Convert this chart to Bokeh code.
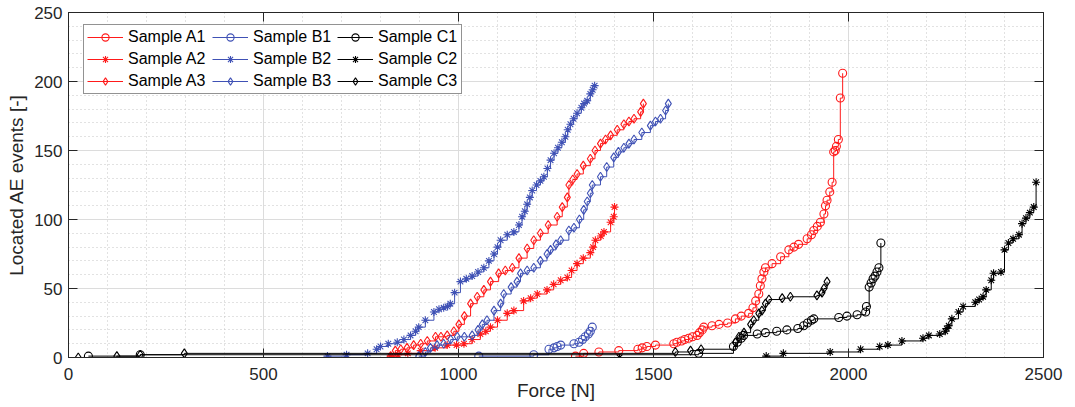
import math
from bokeh.plotting import figure
from bokeh.models import (Range1d, LinearAxis, Legend, LegendItem,
                          SingleIntervalTicker, ColumnDataSource, CustomJSTickFormatter)
from bokeh.embed import file_html
from bokeh.resources import INLINE

# ---------------- data (force [N], cumulative located AE events) -------------
a1_force = [1300, 1321, 1360, 1411, 1460, 1471, 1483, 1505, 1552, 1560, 1572, 1580,
            1590, 1600, 1612, 1618, 1625, 1629, 1650, 1668, 1690, 1710, 1725, 1744,
            1755, 1762, 1770, 1774, 1778, 1783, 1787, 1804, 1826, 1847, 1860, 1872,
            1894, 1905, 1911, 1920, 1928, 1937, 1941, 1945, 1952, 1958, 1962, 1966,
            1969, 1974, 1979, 1985]
a1_events = [1, 3, 4, 5, 6, 7, 8, 9, 10, 11, 12, 13,
             14, 15, 16, 18, 20, 22, 23, 24, 25, 28, 30, 32,
             36, 41, 46, 52, 57, 62, 65, 68, 73, 78, 80, 82,
             86, 89, 92, 95, 98, 104, 110, 114, 120, 127, 149, 150,
             153, 158, 188, 206]

a2_force = [826, 845, 870, 903, 940, 971, 995, 1014, 1035, 1056, 1070, 1082, 1100,
            1125, 1142, 1167, 1185, 1202, 1227, 1244, 1262, 1279, 1290, 1304, 1320,
            1338, 1345, 1351, 1365, 1373, 1390, 1398, 1400]
a2_events = [1, 2, 3, 5, 7, 9, 9, 10, 13, 17, 19, 22, 27,
             32, 34, 41, 43, 46, 49, 53, 56, 58, 63, 68, 72,
             76, 80, 85, 88, 91, 98, 102, 109]

a3_force = [826, 838, 852, 868, 885, 903, 920, 941, 955, 971, 988, 1001, 1015, 1031,
            1048, 1065, 1082, 1103, 1120, 1138, 1155, 1176, 1193, 1210, 1230, 1253,
            1266, 1279, 1283, 1293, 1304, 1320, 1338, 1350, 1364, 1377, 1390, 1407,
            1424, 1437, 1450, 1467, 1474]
a3_events = [1, 5, 6, 7, 9, 10, 12, 15, 15, 16, 19, 24, 30, 39,
             44, 49, 55, 61, 63, 65, 72, 79, 85, 90, 96, 102,
             109, 116, 125, 129, 133, 139, 144, 150, 155, 158, 161, 165,
             169, 171, 173, 178, 184]

b1_force = [1052, 1193, 1232, 1245, 1253, 1262, 1296, 1309, 1318, 1325, 1333, 1338, 1343]
b1_events = [1, 2, 6, 7, 8, 9, 10, 11, 13, 15, 17, 19, 22]

b2_force = [664, 713, 767, 790, 800, 820, 843, 860, 877, 890, 898, 915, 937, 950, 962,
            972, 979, 990, 1005, 1020, 1035, 1050, 1065, 1078, 1091, 1100, 1108, 1125,
            1142, 1155, 1163, 1170, 1176, 1183, 1189, 1200, 1210, 1219, 1228, 1236,
            1245, 1255, 1265, 1274, 1280, 1287, 1295, 1304, 1315, 1322, 1330, 1338,
            1344, 1349]
b2_events = [1, 2, 3, 6, 8, 10, 11, 13, 16, 19, 22, 27, 33, 35, 36,
             37, 39, 47, 55, 57, 59, 62, 65, 70, 75, 80, 85, 89,
             91, 96, 102, 106, 111, 116, 121, 125, 128, 131, 137, 143,
             148, 152, 156, 160, 165, 169, 173, 177, 181, 184, 186, 191,
             194, 197]

b3_force = [898, 915, 928, 945, 962, 980, 997, 1015, 1035, 1050, 1061, 1073, 1091,
            1108, 1116, 1135, 1150, 1159, 1176, 1193, 1210, 1227, 1236, 1250, 1262,
            1283, 1296, 1310, 1321, 1330, 1338, 1343, 1364, 1380, 1398, 1410, 1424,
            1437, 1450, 1470, 1492, 1505, 1518, 1531, 1538]
b3_events = [1, 4, 7, 9, 10, 13, 15, 15, 16, 20, 24, 27, 34,
             39, 46, 51, 55, 61, 63, 65, 70, 75, 78, 82, 85,
             92, 94, 100, 107, 113, 119, 125, 131, 138, 145, 149, 152,
             155, 158, 163, 168, 171, 173, 179, 184]

c1_force = [51, 184, 1616, 1705, 1715, 1725, 1731, 1766, 1787, 1816, 1842, 1870, 1885,
            1895, 1905, 1911, 1975, 1996, 2022, 2044, 2046, 2053, 2058, 2063, 2068,
            2073, 2078, 2083]
c1_events = [1, 2, 3, 8, 11, 14, 16, 17, 18, 19, 20, 21, 23,
             25, 27, 28, 29, 30, 31, 33, 37, 51, 54, 57, 59,
             62, 65, 83]

c2_force = [1413, 1789, 1833, 1953, 2031, 2080, 2101, 2137, 2191, 2206, 2234, 2248,
            2252, 2257, 2265, 2282, 2294, 2325, 2335, 2345, 2353, 2366, 2372, 2391,
            2400, 2410, 2422, 2437, 2445, 2455, 2465, 2475, 2481]
c2_events = [0, 1, 3, 4, 6, 8, 9, 12, 14, 16, 17, 19,
             21, 23, 28, 33, 37, 40, 42, 44, 49, 56, 61, 62,
             78, 83, 86, 89, 97, 101, 105, 109, 127]

c3_force = [25, 124, 184, 297, 1556, 1595, 1622, 1710, 1719, 1732, 1749, 1757, 1770,
            1778, 1787, 1796, 1830, 1851, 1919, 1932, 1937, 1945]
c3_events = [0, 1, 2, 3, 4, 5, 6, 11, 15, 18, 24, 27, 32,
             34, 39, 42, 43, 44, 45, 47, 50, 55]

labels = ["Sample A1", "Sample A2", "Sample A3",
          "Sample B1", "Sample B2", "Sample B3",
          "Sample C1", "Sample C2", "Sample C3"]

x_ticks_step = 500
y_ticks_step = 50

# ---------------- styling --------------------------------------------------
RED = "#FF1A1A"
BLUE = "#3F51B5"
BLACK = "#000000"
AXC = "#262626"
FONT = "Liberation Sans"

series = [
    (a1_force, a1_events, RED, "circle"),
    (a2_force, a2_events, RED, "asterisk"),
    (a3_force, a3_events, RED, "diamond"),
    (b1_force, b1_events, BLUE, "circle"),
    (b2_force, b2_events, BLUE, "asterisk"),
    (b3_force, b3_events, BLUE, "diamond"),
    (c1_force, c1_events, BLACK, "circle"),
    (c2_force, c2_events, BLACK, "asterisk"),
    (c3_force, c3_events, BLACK, "diamond"),
]

p = figure(width=1075, height=407, output_backend="svg", toolbar_location=None,
           x_range=Range1d(0, 2500), y_range=Range1d(0, 250),
           min_border_left=68, min_border_right=32, min_border_top=12,
           min_border_bottom=50)
p.background_fill_color = "white"
p.border_fill_color = "white"
p.outline_line_color = AXC
p.outline_line_width = 1

for ax in (p.xaxis[0], p.yaxis[0]):
    ax.axis_line_color = AXC
    ax.major_tick_line_color = AXC
    ax.major_tick_in = 9
    ax.major_tick_out = 0
    ax.minor_tick_in = 0
    ax.minor_tick_out = 0
    ax.major_label_text_font = FONT
    ax.major_label_text_font_size = "17px"
    ax.major_label_text_color = AXC
    ax.axis_label_text_font = FONT
    ax.axis_label_text_font_size = "19px"
    ax.axis_label_text_font_style = "normal"
    ax.axis_label_text_color = AXC

p.xaxis[0].ticker = SingleIntervalTicker(interval=x_ticks_step, num_minor_ticks=5)
p.yaxis[0].ticker = SingleIntervalTicker(interval=y_ticks_step, num_minor_ticks=5)
p.xaxis[0].major_label_standoff = 10
p.xaxis[0].axis_label = "Force [N]"
p.xaxis[0].axis_label_standoff = -3
p.yaxis[0].major_label_standoff = 6
p.yaxis[0].axis_label = "Located AE events [-]"
p.yaxis[0].axis_label_standoff = 4

for loc, dim_ticker in (("above", SingleIntervalTicker(interval=x_ticks_step, num_minor_ticks=5)),
                        ("right", SingleIntervalTicker(interval=y_ticks_step, num_minor_ticks=5))):
    ax = LinearAxis(ticker=dim_ticker)
    ax.axis_line_color = AXC
    ax.major_tick_line_color = AXC
    ax.major_tick_in = 9
    ax.major_tick_out = 0
    ax.minor_tick_in = 0
    ax.minor_tick_out = 0
    ax.formatter = CustomJSTickFormatter(code="return ''")
    ax.major_label_standoff = 0
    p.add_layout(ax, loc)

for g in (p.xgrid[0], p.ygrid[0]):
    g.grid_line_color = "#DCDCDC"
    g.grid_line_width = 1
    g.minor_grid_line_color = "#C4C4C4"
    g.minor_grid_line_dash = "1 3"
    g.minor_grid_line_width = 1
p.xgrid[0].ticker = SingleIntervalTicker(interval=x_ticks_step, num_minor_ticks=5)
p.ygrid[0].ticker = SingleIntervalTicker(interval=y_ticks_step, num_minor_ticks=5)

items = []
for (fx, ev, col, mk), lab in zip(series, labels):
    src = ColumnDataSource(dict(x=fx, y=ev))
    r_line = p.step("x", "y", source=src, mode="after", line_color=col, line_width=1)
    size = 9 if mk == "diamond" else 8
    r_mk = p.scatter("x", "y", source=src, marker=mk, size=size, line_color=col,
                     fill_color=None, line_width=1.1)
    items.append(LegendItem(label=lab, renderers=[r_line, r_mk]))

legend = Legend(items=items, location=(15, 263), ncols=3)
legend.label_text_font = FONT
legend.label_text_font_size = "16px"
legend.label_text_color = "black"
legend.glyph_width = 36
legend.glyph_height = 18
legend.label_height = 18
legend.label_width = 80
legend.label_standoff = 5
legend.spacing = 4
legend.padding = 3
legend.margin = 0
legend.border_line_color = AXC
legend.border_line_width = 1
legend.background_fill_color = "white"
legend.background_fill_alpha = 1
p.add_layout(legend)

open("out.html", "w").write(file_html(p, INLINE))
